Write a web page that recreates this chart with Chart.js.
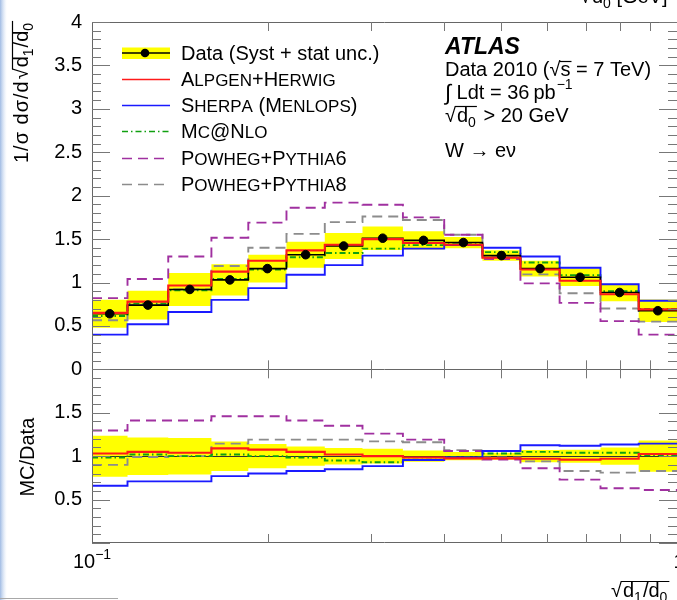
<!DOCTYPE html>
<html>
<head>
<meta charset="utf-8">
<script src="https://cdn.jsdelivr.net/npm/chart.js@4"></script>
<style>
  html, body { margin: 0; padding: 0; background: #fff; overflow: hidden; }
  canvas { display: block; }
</style>
</head>
<body>
<canvas id="c" width="677" height="600"></canvas>
<script>
// Bin edges of sqrt(d1/d0)
const binEdges = [0.1, 0.115, 0.135, 0.16, 0.185, 0.215, 0.25, 0.29, 0.34, 0.40, 0.465, 0.54, 0.63, 0.74, 0.86, 1.0];

// Normalised distribution, top panel
const dataValues   = [0.64, 0.74, 0.92, 1.03, 1.16, 1.32, 1.42, 1.51, 1.485, 1.46, 1.31, 1.16, 1.06, 0.885, 0.675];
const dataUnc      = [0.16, 0.165, 0.19, 0.18, 0.16, 0.15, 0.15, 0.135, 0.105, 0.065, 0.06, 0.09, 0.10, 0.10, 0.13];
const alpgenHerwig = [0.65, 0.78, 0.965, 1.125, 1.25, 1.37, 1.435, 1.50, 1.455, 1.435, 1.285, 1.15, 1.02, 0.865, 0.69];
const sherpa       = [0.40, 0.52, 0.66, 0.80, 0.935, 1.09, 1.20, 1.31, 1.39, 1.43, 1.40, 1.30, 1.17, 0.98, 0.79];
const mcAtNlo      = [0.615, 0.76, 0.91, 1.04, 1.15, 1.29, 1.34, 1.39, 1.43, 1.44, 1.35, 1.23, 1.085, 0.90, 0.695];
const powhegPy6    = [0.82, 1.04, 1.30, 1.515, 1.69, 1.86, 1.92, 1.895, 1.75, 1.55, 1.27, 0.99, 0.765, 0.555, 0.40];
const powhegPy8    = [0.565, 0.745, 0.92, 1.19, 1.40, 1.56, 1.695, 1.76, 1.72, 1.55, 1.29, 1.094, 0.877, 0.70, 0.55];

// MC/Data, bottom panel
const ratioUnc     = [0.236, 0.216, 0.21, 0.17, 0.14, 0.11, 0.095, 0.085, 0.065, 0.047, 0.04, 0.07, 0.075, 0.10, 0.18];
const ratioAlpgen  = [1.03, 1.05, 1.04, 1.09, 1.075, 1.05, 1.02, 1.00, 0.985, 0.975, 0.975, 0.97, 0.96, 0.97, 1.025];
const ratioSherpa  = [0.66, 0.71, 0.71, 0.77, 0.80, 0.83, 0.85, 0.885, 0.955, 0.985, 1.06, 1.125, 1.12, 1.135, 1.145];
const ratioMcNlo   = [0.985, 1.02, 1.0, 1.02, 1.0, 0.985, 0.95, 0.93, 0.96, 0.99, 1.03, 1.05, 1.04, 1.04, 1.01];
const ratioPy6     = [1.295, 1.41, 1.41, 1.46, 1.46, 1.41, 1.35, 1.26, 1.19, 1.06, 0.96, 0.86, 0.73, 0.63, 0.61];
const ratioPy8     = [0.90, 0.99, 1.0, 1.145, 1.19, 1.19, 1.19, 1.17, 1.16, 1.07, 0.985, 0.94, 0.83, 0.81, 0.83];

// Axis ticks and labels
const topTickStep = 0.5;
const ratioTickLabels = [0.5, 1, 1.5];
const xMinorTicks = [0.2, 0.3, 0.4, 0.5, 0.6, 0.7, 0.8, 0.9];
const xTickLabels = [{ v: 0.1, base: '10', exp: '\u22121' }, { v: 1, base: '1', exp: '' }];

// Legend entries
const legendLabels = ['Data (Syst + stat unc.)', 'Alpgen+Herwig', 'Sherpa (Menlops)', 'Mc@Nlo', 'Powheg+Pythia6', 'Powheg+Pythia8'];

const COLORS = { red: '#ff1a1a', blue: '#1a1aff', green: '#10a010', purple: '#a030a0', gray: '#8c8c8c', yellow: '#ffff00' };
const FAM = '"Liberation Sans", Arial, Helvetica, sans-serif';

function stepPoints(vals) {
  const pts = vals.map((v, i) => ({ x: binEdges[i], y: v }));
  pts.push({ x: binEdges[vals.length], y: vals[vals.length - 1] });
  return pts;
}
function stepLine(label, vals, axis, color, width, dash, order) {
  return {
    label, data: stepPoints(vals), yAxisID: axis, borderColor: color, borderWidth: width,
    borderDash: dash || [], stepped: true, pointRadius: 0, fill: false, order
  };
}
function bandEdge(label, vals, axis, fill, order) {
  return {
    label, data: stepPoints(vals), yAxisID: axis, borderColor: 'rgba(0,0,0,0)', borderWidth: 0,
    backgroundColor: COLORS.yellow, stepped: true, pointRadius: 0, fill, order
  };
}

const DASH = [10, 6];
const DASHDOT = [6, 3, 1.5, 3];
const LW = 1.9;

const datasets = [
  { label: 'data-points', data: dataValues.map((v, i) => ({ x: Math.sqrt(binEdges[i] * binEdges[i + 1]), y: v })),
    yAxisID: 'y', showLine: false, pointRadius: 4.3, pointBackgroundColor: '#000', pointBorderColor: '#000', order: 0 },
  stepLine('alpgen', alpgenHerwig, 'y', COLORS.red, 2.1, null, 1),
  stepLine('data-step', dataValues, 'y', '#000', 1.6, null, 2),
  stepLine('alpgen-r', ratioAlpgen, 'yr', COLORS.red, 2.1, null, 1),
  stepLine('sherpa', sherpa, 'y', COLORS.blue, LW, null, 3),
  stepLine('sherpa-r', ratioSherpa, 'yr', COLORS.blue, LW, null, 3),
  stepLine('mcnlo', mcAtNlo, 'y', COLORS.green, LW, DASHDOT, 4),
  stepLine('mcnlo-r', ratioMcNlo, 'yr', COLORS.green, LW, DASHDOT, 4),
  stepLine('py6', powhegPy6, 'y', COLORS.purple, LW, DASH, 5),
  stepLine('py6-r', ratioPy6, 'yr', COLORS.purple, LW, DASH, 5),
  stepLine('py8', powhegPy8, 'y', COLORS.gray, LW, DASH, 6),
  stepLine('py8-r', ratioPy8, 'yr', COLORS.gray, LW, DASH, 6),
  bandEdge('band-hi', dataValues.map((v, i) => v + dataUnc[i]), 'y', '+1', 20),
  bandEdge('band-lo', dataValues.map((v, i) => v - dataUnc[i]), 'y', false, 21),
  bandEdge('rband-hi', ratioUnc.map(u => 1 + u), 'yr', '+1', 20),
  bandEdge('rband-lo', ratioUnc.map(u => 1 - u), 'yr', false, 21)
];

function setFont(ctx, px, style) { ctx.font = (style ? style + ' ' : '') + px + 'px ' + FAM; }
function seg(ctx, txt, x, y, px, style) {
  setFont(ctx, px, style);
  ctx.fillText(txt, x, y);
  return x + ctx.measureText(txt).width;
}
function hline(ctx, x0, x1, y) { ctx.beginPath(); ctx.moveTo(x0, y); ctx.lineTo(x1, y); ctx.stroke(); }
function vline(ctx, x, y0, y1) { ctx.beginPath(); ctx.moveTo(x, y0); ctx.lineTo(x, y1); ctx.stroke(); }

// Small caps: lowercase letters are drawn as smaller capitals
function smallCaps(ctx, text, x, y, big, small) {
  let cx = x;
  for (const ch of text) {
    const lower = ch !== ch.toUpperCase();
    const c = lower ? ch.toUpperCase() : ch;
    setFont(ctx, lower ? small : big);
    ctx.fillText(c, cx, y);
    cx += ctx.measureText(c).width;
  }
  return cx;
}

const overlay = {
  id: 'overlay',
  afterDatasetDraw(chart, args) {
    // unity line of the ratio panel, above the band
    if (args.index === 14) {
      const ctx = chart.ctx, yr = chart.scales.yr, a = chart.chartArea;
      ctx.save();
      ctx.strokeStyle = '#333'; ctx.lineWidth = 1;
      const y = Math.round(yr.getPixelForValue(1)) + 0.5;
      hline(ctx, a.left, a.right, y);
      ctx.restore();
    }
  },
  afterDraw(chart) {
    const ctx = chart.ctx;
    const xs = chart.scales.x, ys = chart.scales.y, yr = chart.scales.yr;
    const L = chart.chartArea.left, R = chart.chartArea.right;
    const T = ys.top, M = ys.bottom, B = yr.bottom;
    ctx.save();

    // window edge on the left
    const g = ctx.createLinearGradient(0, 0, 7, 0);
    g.addColorStop(0, 'rgba(150,180,225,0.9)');
    g.addColorStop(1, 'rgba(210,225,245,0)');
    ctx.fillStyle = g;
    ctx.fillRect(0, 0, 7, 600);
    ctx.strokeStyle = '#a8a8a8'; ctx.lineWidth = 1;
    hline(ctx, 0, 118, 598.5);

    // frame
    ctx.strokeStyle = '#666'; ctx.lineWidth = 1;
    vline(ctx, L + 0.5, T, B);
    vline(ctx, R + 0.5, T, B);
    hline(ctx, L, R, Math.round(T) + 0.5);
    hline(ctx, L, R, Math.round(M) + 0.5);
    hline(ctx, L, R, Math.round(B) - 0.5);

    // y ticks, both panels, left and right
    ctx.strokeStyle = '#777';
    const yTicks = (scale, max) => {
      for (let k = 0; k <= max * 10; k++) {
        const v = k / 10;
        const y = Math.round(scale.getPixelForValue(v)) + 0.5;
        const len = (k % 5 === 0) ? 18 : 9;
        hline(ctx, L, L + len, y);
        hline(ctx, R - len, R, y);
      }
    };
    yTicks(ys, 4);
    yTicks(yr, 2);

    // x ticks
    for (const v of xMinorTicks) {
      const x = Math.round(xs.getPixelForValue(v)) + 0.5;
      vline(ctx, x, T, T + 9);
      vline(ctx, x, M - 9, M + 9);
      vline(ctx, x, B - 9, B);
    }

    // x tick labels
    ctx.fillStyle = '#000'; ctx.textBaseline = 'alphabetic'; ctx.textAlign = 'left';
    for (const t of xTickLabels) {
      setFont(ctx, 20); const wb = ctx.measureText(t.base).width;
      setFont(ctx, 14); const we = t.exp ? ctx.measureText(t.exp).width : 0;
      const x0 = xs.getPixelForValue(t.v) - (wb + we) / 2 + (t.exp ? 0 : 2);
      const x1 = seg(ctx, t.base, x0, 568, 20);
      if (t.exp) seg(ctx, t.exp, x1, 559, 14);
    }

    // x axis title: sqrt(d1/d0)
    ctx.strokeStyle = '#000'; ctx.lineWidth = 1.2;
    let x = seg(ctx, '\u221A', 611, 597, 20);
    const ox = x;
    x = seg(ctx, 'd', x + 1, 597, 20);
    x = seg(ctx, '1', x, 602, 14);
    x = seg(ctx, '/', x + 1, 597, 20);
    x = seg(ctx, 'd', x, 597, 20);
    x = seg(ctx, '0', x, 602, 14);
    hline(ctx, ox - 1, x + 2, 581.5);

    // axis title of the panel above (partially visible)
    x = seg(ctx, '\u221A', 580, 3, 20);
    x = seg(ctx, 'd', x + 1, 3, 20);
    x = seg(ctx, '0', x, 8, 14);
    seg(ctx, ' [GeV]', x, 3, 20);

    // y axis title, top panel: 1/sigma dsigma/d sqrt(d1/d0)
    ctx.save();
    ctx.translate(28, 163);
    ctx.rotate(-Math.PI / 2);
    ctx.letterSpacing = '1px';
    let u = seg(ctx, '1/\u03C3 d\u03C3/d', 0, 0, 20);
    ctx.letterSpacing = '0px';
    u = seg(ctx, '\u221A', u + 1, 0, 20);
    const ou = u;
    u = seg(ctx, 'd', u + 1, 0, 20);
    u = seg(ctx, '1', u, 5, 14);
    u = seg(ctx, '/', u + 1, 0, 20);
    u = seg(ctx, 'd', u, 0, 20);
    u = seg(ctx, '0', u, 5, 14);
    hline(ctx, ou - 1, u + 2, -15.5);
    ctx.restore();

    // y axis title, ratio panel
    ctx.save();
    ctx.translate(34, (yr.top + yr.bottom) / 2 + 1);
    ctx.rotate(-Math.PI / 2);
    ctx.textAlign = 'center';
    seg(ctx, 'MC/Data', 0, 0, 20);
    ctx.restore();
    ctx.textAlign = 'left';

    // legend
    const ly = [53, 79, 105, 131, 158, 184];
    const lx0 = 122, lx1 = 170, tx = 181;
    ctx.fillStyle = COLORS.yellow;
    ctx.fillRect(lx0, ly[0] - 5.5, lx1 - lx0, 11.5);
    ctx.strokeStyle = '#000'; ctx.lineWidth = 1.6; ctx.setLineDash([]);
    hline(ctx, lx0, lx1, ly[0]);
    ctx.fillStyle = '#000';
    ctx.beginPath(); ctx.arc(145, ly[0], 4.3, 0, Math.PI * 2); ctx.fill();
    const styles = [
      [COLORS.red, 1.6, []], [COLORS.blue, 1.6, []], [COLORS.green, 1.6, DASHDOT],
      [COLORS.purple, 1.6, DASH], [COLORS.gray, 1.6, DASH]
    ];
    styles.forEach((s, i) => {
      ctx.strokeStyle = s[0]; ctx.lineWidth = s[1]; ctx.setLineDash(s[2]);
      hline(ctx, lx0, lx1, ly[i + 1] + 0.5);
    });
    ctx.setLineDash([]);
    ctx.fillStyle = '#000';
    seg(ctx, legendLabels[0], tx, ly[0] + 7, 20);
    for (let i = 1; i < legendLabels.length; i++) {
      smallCaps(ctx, legendLabels[i], tx, ly[i] + 7, 20, 17);
    }

    // experiment label block
    ctx.strokeStyle = '#000'; ctx.lineWidth = 1.2;
    seg(ctx, 'ATLAS', 445, 54, 23, 'italic bold');
    x = seg(ctx, 'Data 2010 (', 445, 76, 20);
    x = seg(ctx, '\u221A', x, 76, 20);
    const sx = x;
    x = seg(ctx, 's', x, 76, 20);
    hline(ctx, sx - 1, x + 1, 61.5);
    seg(ctx, ' = 7 TeV)', x, 76, 20);

    x = seg(ctx, '\u222B', 445, 100, 22);
    x = seg(ctx, ' Ldt = 36\u2009pb', x, 99, 20);
    seg(ctx, '\u22121', x + 1, 89, 14);

    x = seg(ctx, '\u221A', 445, 122, 20);
    const dx = x;
    x = seg(ctx, 'd', x + 1, 122, 20);
    x = seg(ctx, '0', x, 127, 14);
    hline(ctx, dx - 1, x + 1, 106.5);
    seg(ctx, ' > 20 GeV', x + 2, 122, 20);

    seg(ctx, 'W \u2192 e\u03BD', 445, 157, 20);

    ctx.restore();
  }
};

Chart.defaults.font.family = FAM;

new Chart(document.getElementById('c'), {
  type: 'line',
  data: { datasets },
  options: {
    responsive: false,
    animation: false,
    devicePixelRatio: 1,
    layout: { autoPadding: false, padding: { top: 16, left: 0, right: 0, bottom: 0 } },
    plugins: { legend: { display: false }, tooltip: { enabled: false } },
    scales: {
      x: {
        type: 'logarithmic', min: binEdges[0], max: binEdges[binEdges.length - 1],
        grid: { display: false, drawTicks: false }, border: { display: false },
        ticks: { display: false },
        afterFit(s) { s.height = 57; }
      },
      yr: {
        type: 'linear', position: 'left', stack: 'panels', stackWeight: 1, min: 0, max: 2,
        grid: { display: false, drawTicks: false }, border: { display: false },
        ticks: {
          stepSize: topTickStep, padding: 10, color: '#000', autoSkip: false,
          font: { family: FAM, size: 20 },
          callback: v => ratioTickLabels.includes(v) ? String(v) : ''
        },
        afterFit(s) { s.width = 92; }
      },
      y: {
        type: 'linear', position: 'left', stack: 'panels', stackWeight: 2, min: 0, max: 4,
        grid: { display: false, drawTicks: false }, border: { display: false },
        ticks: {
          stepSize: topTickStep, padding: 10, color: '#000', autoSkip: false,
          font: { family: FAM, size: 20 },
          callback: v => String(v)
        },
        afterFit(s) { s.width = 92; }
      }
    }
  },
  plugins: [overlay]
});
</script>
</body>
</html>
